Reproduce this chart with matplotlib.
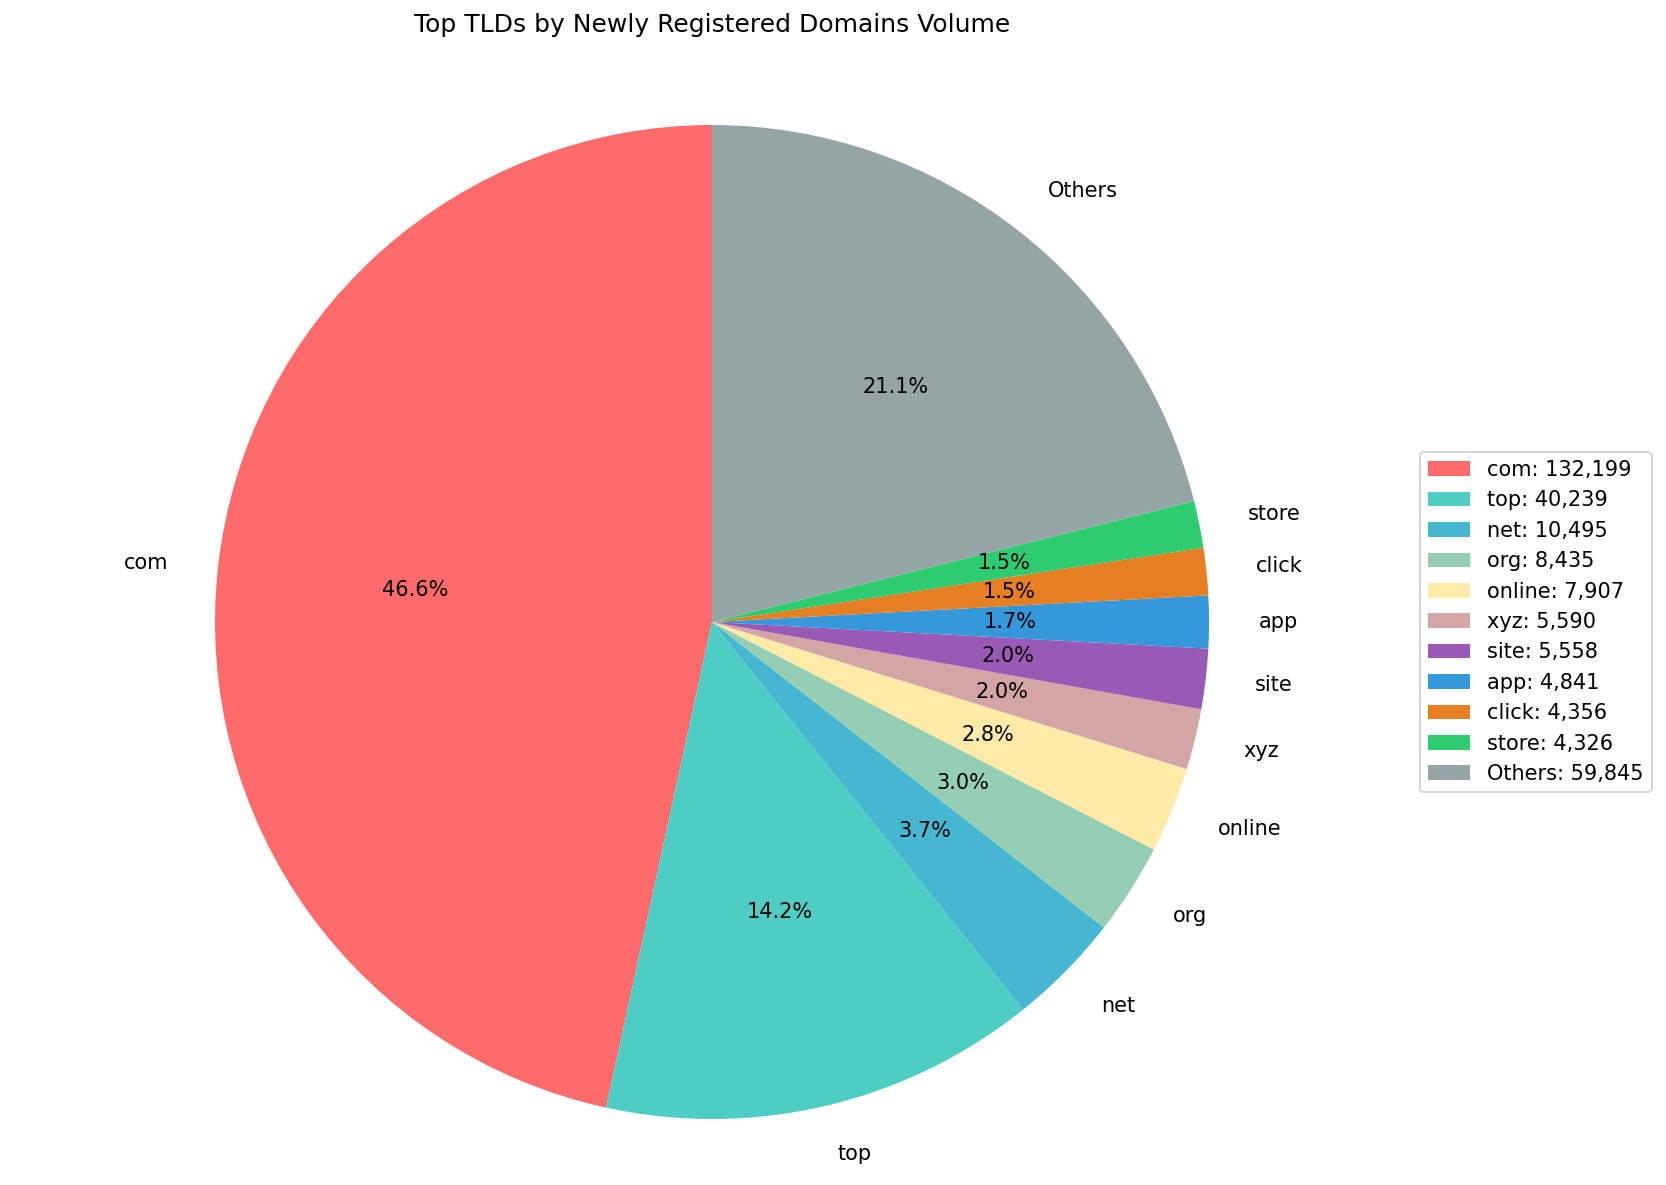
import matplotlib
matplotlib.use("Agg")
import matplotlib.pyplot as plt

tlds = ["com", "top", "net", "org", "online", "xyz", "site", "app", "click", "store", "Others"]
counts = [132199, 40239, 10495, 8435, 7907, 5590, 5558, 4841, 4356, 4326, 59845]
colors = ["#FF6B6B", "#4ECDC4", "#45B7D1", "#96CEB4", "#FFEAA7", "#D4A5A5",
          "#9B59B6", "#3498DB", "#E67E22", "#2ECC71", "#95A5A6"]
title = "Top TLDs by Newly Registered Domains Volume"

W, H = 1666, 1185
dpi = 150
fig = plt.figure(figsize=(W / dpi, H / dpi), dpi=dpi)
cx, cy, r = 712, 622, 497
ax = fig.add_axes([(cx - r) / W, (H - cy - r) / H, 2 * r / W, 2 * r / H])

wedges, texts, autotexts = ax.pie(counts, labels=tlds, colors=colors,
                                  autopct="%1.1f%%", startangle=90)
ax.set_xlim(-1, 1)
ax.set_ylim(-1, 1)
ax.set_aspect("equal")
ax.set_title(title, fontsize=12, pad=44.5)

legend_labels = [f"{t}: {c:,}" for t, c in zip(tlds, counts)]
ax.legend(wedges, legend_labels, loc="center left", borderaxespad=0,
          bbox_to_anchor=(1420 / W, 1 - 622 / H), bbox_transform=fig.transFigure)

fig.savefig("out.png", dpi=dpi)
